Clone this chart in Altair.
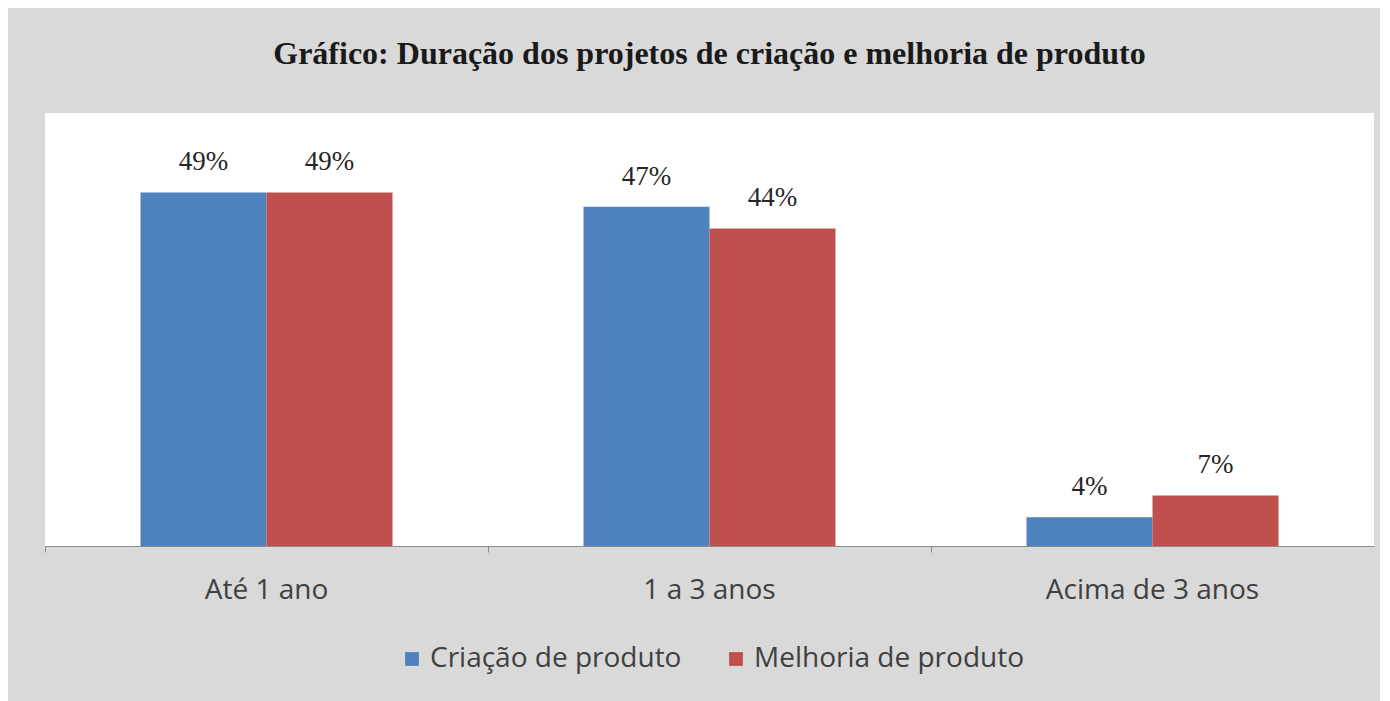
import altair as alt
import pandas as pd

categories = ["Até 1 ano", "1 a 3 anos", "Acima de 3 anos"]
series = ["Criação de produto", "Melhoria de produto"]
criacao = [49, 47, 4]
melhoria = [49, 44, 7]
colors = ["#4f81bd", "#c0504d"]

rows = []
for c, a, b in zip(categories, criacao, melhoria):
    rows.append({"cat": c, "serie": series[0], "val": a, "lab": f"{a}%"})
    rows.append({"cat": c, "serie": series[1], "val": b, "lab": f"{b}%"})
df = pd.DataFrame(rows)

x = alt.X("cat:N", sort=categories, title=None,
          scale=alt.Scale(paddingInner=0, paddingOuter=0),
          axis=alt.Axis(labelAngle=0, bandPosition=0, labelFont="Open Sans",
                        labelFontSize=28, labelColor="#404040", labelPadding=24,
                        domainColor="#8c8c8c", tickColor="#8c8c8c", tickSize=6,
                        labelBound=False, labelLimit=0))
xo = alt.XOffset("serie:N", sort=series,
                 scale=alt.Scale(paddingInner=0, paddingOuter=0.758))
y = alt.Y("val:Q", scale=alt.Scale(domain=[0, 60], nice=False), axis=None)

base = alt.Chart(df)
bars = base.mark_bar().encode(
    x=x, xOffset=xo, y=y,
    color=alt.Color("serie:N", sort=series,
                    scale=alt.Scale(domain=series, range=colors),
                    legend=alt.Legend(title=None, orient="none", direction="horizontal",
                                      legendX=353, legendY=532, symbolType="square",
                                      symbolSize=190, symbolStrokeWidth=0,
                                      labelFont="Open Sans", labelFontSize=28,
                                      labelColor="#404040", columnPadding=40,
                                      symbolOffset=0, labelOffset=4, labelLimit=0)),
)
labels = base.mark_text(baseline="bottom", dy=-16).encode(
    x=x, xOffset=xo, y=y, text="lab:N")

chart = (bars + labels).properties(
    width=1329, height=433,
    background="#d9d9d9",
    padding={"left": 37, "top": 105, "right": 6, "bottom": 160},
    autosize=alt.AutoSizeParams(type="none"),
    title=alt.TitleParams("Gráfico: Duração dos projetos de criação e melhoria de produto",
                          font="Liberation Serif", fontSize=32, fontWeight="bold",
                          color="#1a1a1a", anchor="middle", offset=42),
).configure_view(fill="white", stroke=None).configure_text(
    font="Liberation Serif", fontSize=27, color="#262626")

chart.save("out.html", embed_options={"renderer": "svg", "actions": False})
